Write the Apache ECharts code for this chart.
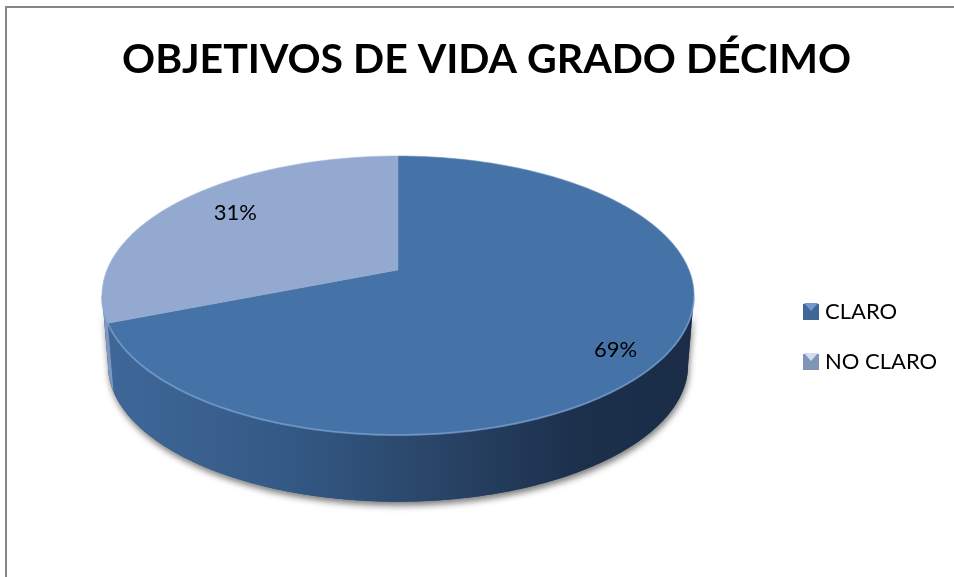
<!DOCTYPE html>
<html><head><meta charset="utf-8">
<style>html,body{margin:0;padding:0;background:#fff;overflow:hidden}#c{width:954px;height:577px}</style>
<script src="https://cdn.jsdelivr.net/npm/echarts@6/dist/echarts.min.js"></script>
</head><body><div id="c"></div>
<script>
const chartTitle = 'OBJETIVOS DE VIDA GRADO DÉCIMO';
const categories = ['CLARO', 'NO CLARO'];
const values = [69, 31];
const topColors = ['#4572a7', '#93a9cf'];
const legendColors = ['#3f6899', '#8094b8'];
const bevelColors = ['#6d9ad3', '#d2ddf0'];
const labelRadius = [0.82, 0.75];
const labelShift = [[2, 12], [5, -4]];

// projection of the tilted disc (perspective): turn fraction -> screen point
const CX = 398, Y0 = 270, A = 291, B = 134.8, K = 0.183, DEPTH = 70, RIM = 0.98;
function project(turn, r, lower) {
  const t = turn * 2 * Math.PI, x = Math.sin(t) * r, z = -Math.cos(t) * r, d = 1 - K * z;
  const s = lower ? RIM : 1;
  return [CX + s * A * x / d, Y0 + (lower ? DEPTH : 0) + s * B * z / d];
}
function arc(a, b, lower) {
  const n = Math.max(2, Math.ceil(Math.abs(b - a) * 360)), pts = [];
  for (let i = 0; i <= n; i++) pts.push(project(a + (b - a) * i / n, 1, lower));
  return pts;
}
const total = values.reduce((s, v) => s + v, 0);
const starts = values.map((_, i) => values.slice(0, i).reduce((s, v) => s + v, 0) / total);
const wallGrad = i => new echarts.graphic.LinearGradient(100, 0, 695, 0, i === 0
  ? [{offset: 0, color: '#3f6899'}, {offset: 0.3, color: '#345a87'}, {offset: 0.55, color: '#2a4669'}, {offset: 0.8, color: '#1c304c'}, {offset: 1, color: '#1a2c46'}]
  : [{offset: 0, color: '#7d96c2'}, {offset: 1, color: '#7d96c2'}], true);
const WALL_A = 0.279, WALL_B = 0.721; // silhouette tangents of the disc

function renderSlice(idx) {
  return function (params, api) {
    const a = api.value(0), b = api.value(1), val = api.value(2), children = [];
    const wa = Math.max(a, WALL_A), wb = Math.min(b, WALL_B);
    if (idx === 0) {
      children.push({type: 'polygon', z2: 0, shape: {points: arc(WALL_A, WALL_B, false).concat(arc(WALL_B, WALL_A, true))},
        style: {fill: '#2a4669', shadowBlur: 6, shadowOffsetY: 4, shadowOffsetX: 1, shadowColor: 'rgba(0,0,0,0.5)'}});
    }
    if (wb > wa) {
      children.push({type: 'polygon', z2: 1, shape: {points: arc(wa, wb, false).concat(arc(wb, wa, true))}, style: {fill: wallGrad(idx)}});
    }
    const face = [[CX, Y0]].concat(arc(a, b, false));
    children.push({type: 'polygon', z2: 2, shape: {points: face}, style: {fill: topColors[idx], stroke: topColors[idx], lineWidth: 0.5}});
    children.push({type: 'polyline', z2: 3, shape: {points: arc(a, b, false)},
      style: {fill: null, stroke: 'rgba(190,210,235,0.15)', lineWidth: 1.5}});
    if (wb > wa) {
      children.push({type: 'polyline', z2: 3, shape: {points: arc(wa, wb, false)},
        style: {fill: null, stroke: 'rgba(125,165,215,0.55)', lineWidth: 2}});
    }
    const p = project((a + b) / 2, labelRadius[idx], false);
    children.push({type: 'text', z2: 4, x: p[0] + labelShift[idx][0], y: p[1] + labelShift[idx][1],
      style: {text: Math.round(val / total * 100) + '%', fill: '#000', font: '22px Lato', align: 'center', verticalAlign: 'middle'}});
    return {type: 'group', children};
  };
}

const chart = echarts.init(document.getElementById('c'), null, {renderer: 'canvas'});
chart.setOption({
  animation: false,
  backgroundColor: '#fff',
  title: {text: chartTitle, left: 117, top: 34, textStyle: {fontFamily: 'Lato', fontWeight: 'bold', fontSize: 41, color: '#000'}},
  legend: {
    orient: 'vertical', left: 803, top: 301, padding: 0, itemWidth: 16, itemHeight: 16, itemGap: 28, icon: 'rect',
    textStyle: {fontFamily: 'Lato', fontSize: 22, color: '#000', padding: [0, 0, 0, 1]},
    data: categories.map((name, i) => ({name, itemStyle: {color: legendColors[i]}}))
  },
  graphic: [
    {type: 'rect', silent: true, shape: {x: 5, y: 6, width: 2, height: 571}, style: {fill: '#868686'}},
    {type: 'rect', silent: true, shape: {x: 5, y: 6, width: 949, height: 2}, style: {fill: '#868686'}}
  ].concat(bevelColors.map((c, i) => ({
    type: 'polygon', silent: true, z: 10,
    shape: {points: [[804, 303 + i * 50], [818, 303 + i * 50], [811, 311 + i * 50]]},
    style: {fill: c}
  }))),
  series: categories.map((name, i) => ({
    type: 'custom', name, coordinateSystem: 'none', silent: true,
    itemStyle: {color: legendColors[i]},
    data: [[starts[i], starts[i] + values[i] / total, values[i]]],
    renderItem: renderSlice(i)
  }))
});
</script></body></html>
